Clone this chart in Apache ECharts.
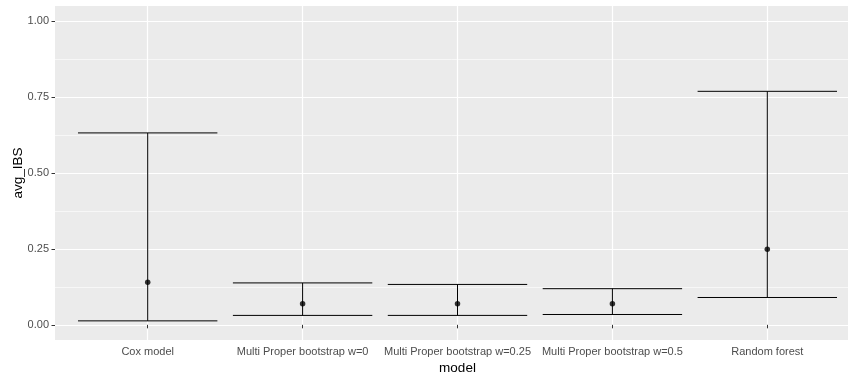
<!DOCTYPE html>
<html>
<head>
<meta charset="utf-8">
<script src="https://cdn.jsdelivr.net/npm/echarts@6/dist/echarts.min.js"></script>
<style>
  html, body { margin: 0; padding: 0; background: #ffffff; }
  #chart { width: 848px; height: 376px; }
</style>
</head>
<body>
<div id="chart"></div>
<script>
const models = ["Cox model", "Multi Proper bootstrap w=0", "Multi Proper bootstrap w=0.25", "Multi Proper bootstrap w=0.5", "Random forest"];
const means  = [0.140, 0.069, 0.069, 0.069, 0.249];
const lowers = [0.013, 0.031, 0.031, 0.034, 0.090];
const uppers = [0.632, 0.138, 0.133, 0.119, 0.769];
const yTicks = [0, 0.25, 0.5, 0.75, 1];

const FONT = "'Liberation Sans', Arial, sans-serif";

const chart = echarts.init(document.getElementById('chart'), null, { renderer: 'canvas' });

const errData = models.map((m, i) => [i, lowers[i], uppers[i]]);

chart.setOption({
  animation: false,
  backgroundColor: '#ffffff',
  textStyle: { fontFamily: FONT },
  graphic: {
    elements: [{
      type: 'rect', z: -10, silent: true,
      shape: { x: 55, y: 6, width: 800, height: 334 },
      style: { fill: '#EBEBEB' }
    }]
  },
  grid: [
    { left: 55, right: 0, top: 21, bottom: 51, containLabel: false, outerBoundsMode: 'none' },
    { left: 147.7, right: 80.7, top: 6, bottom: 36, containLabel: false, outerBoundsMode: 'none' }
  ],
  xAxis: [
    { gridIndex: 0, type: 'value', show: false, min: 0, max: 1 },
    {
      gridIndex: 1, type: 'category', data: models, boundaryGap: false,
      name: 'model', nameLocation: 'middle', nameGap: 21, nameMoveOverlap: false,
      nameTextStyle: { color: '#000', fontSize: 13.5, fontFamily: FONT },
      axisLine: { show: false },
      axisTick: { show: true, length: 3.5, lineStyle: { color: '#333333', width: 1 } },
      axisLabel: { interval: 0, margin: 6, color: '#4D4D4D', fontSize: 11, fontFamily: FONT },
      splitLine: { show: true, lineStyle: { color: '#ffffff', width: 1.2 } }
    }
  ],
  yAxis: [
    {
      gridIndex: 0, type: 'value', min: yTicks[0], max: yTicks[yTicks.length - 1], interval: 0.25,
      name: 'avg_IBS', nameLocation: 'middle', nameGap: 30, nameRotate: 90, nameMoveOverlap: false,
      nameTextStyle: { color: '#000', fontSize: 13.5, fontFamily: FONT },
      axisLine: { show: false },
      axisTick: { show: true, length: 3.5, lineStyle: { color: '#333333', width: 1 } },
      axisLabel: { margin: 6, color: '#4D4D4D', fontSize: 11, fontFamily: FONT,
        formatter: v => v.toFixed(2) },
      splitLine: { show: true, lineStyle: { color: '#ffffff', width: 1.2 } },
      minorTick: { show: false, splitNumber: 2 },
      minorSplitLine: { show: true, lineStyle: { color: '#ffffff', width: 0.6 } }
    },
    { gridIndex: 1, type: 'value', min: -0.05, max: 1.05, show: false }
  ],
  series: [
    {
      type: 'custom', xAxisIndex: 1, yAxisIndex: 1, clip: false, z: 3,
      data: errData,
      renderItem: function (params, api) {
        const i = api.value(0);
        const lo = api.coord([i, api.value(1)]);
        const hi = api.coord([i, api.value(2)]);
        const half = api.size([1, 0])[0] * 0.45;
        const st = { stroke: '#000000', lineWidth: 1 };
        return {
          type: 'group',
          children: [
            { type: 'line', shape: { x1: lo[0], y1: lo[1], x2: hi[0], y2: hi[1] }, style: st },
            { type: 'line', shape: { x1: hi[0] - half, y1: hi[1], x2: hi[0] + half, y2: hi[1] }, style: st },
            { type: 'line', shape: { x1: lo[0] - half, y1: lo[1], x2: lo[0] + half, y2: lo[1] }, style: st }
          ]
        };
      }
    },
    {
      type: 'scatter', xAxisIndex: 1, yAxisIndex: 1, z: 4,
      data: means,
      symbol: 'circle', symbolSize: 5.5,
      itemStyle: { color: '#000000' }
    }
  ]
});
</script>
</body>
</html>
